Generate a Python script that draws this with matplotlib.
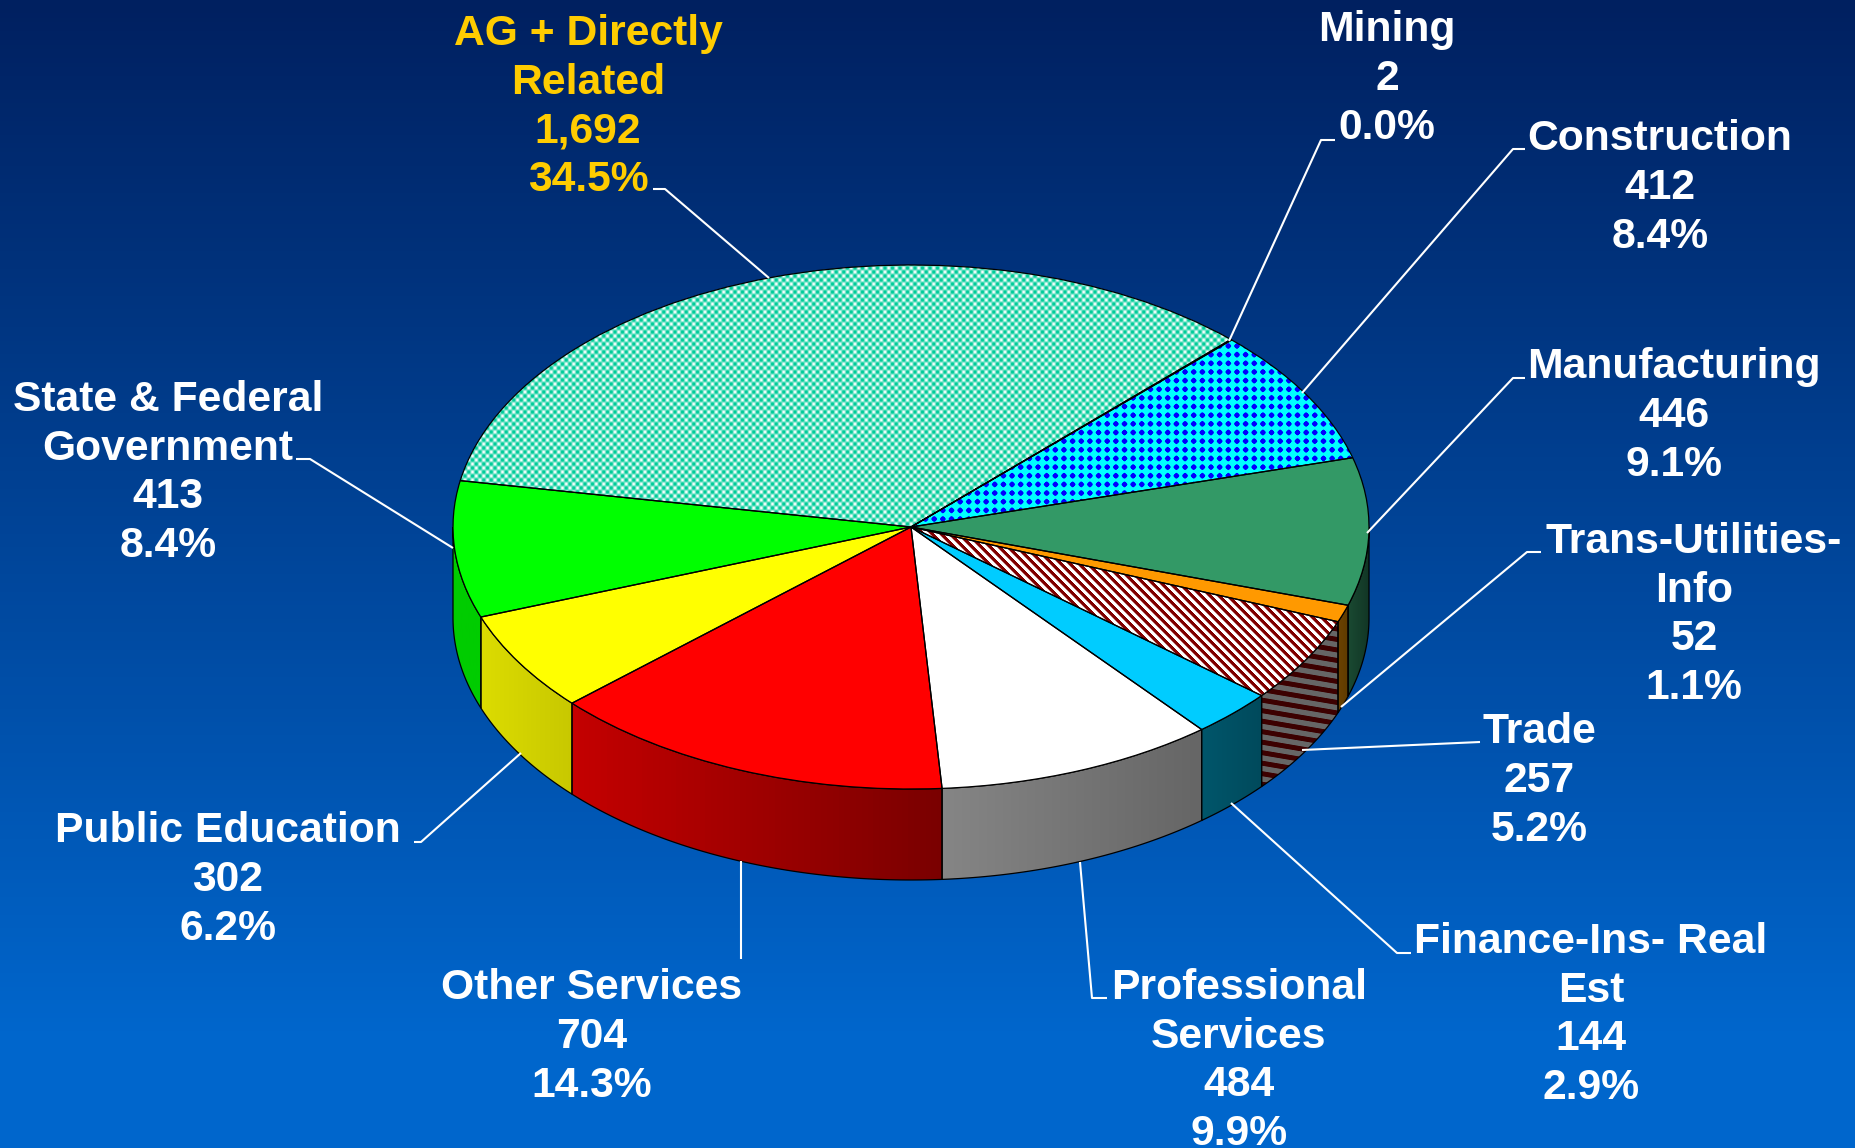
import matplotlib
matplotlib.use('Agg')
import matplotlib.pyplot as plt
from matplotlib.colors import LinearSegmentedColormap
from matplotlib.patches import Polygon
import numpy as np

W, H = 1856, 1148
cx, cy = 911, 527      # pie centre, pixels
rx, ry = 458, 262      # top ellipse radii, pixels
depth = 91
start_angle = 45.7

names = ['Mining', 'Construction', 'Manufacturing', 'Trans-Utilities-\nInfo', 'Trade',
         'Finance-Ins- Real\nEst', 'Professional\nServices', 'Other Services',
         'Public Education', 'State & Federal\nGovernment', 'AG + Directly\nRelated']
values = [2, 412, 446, 52, 257, 144, 484, 704, 302, 413, 1692]
percents = ['0.0%', '8.4%', '9.1%', '1.1%', '5.2%', '2.9%', '9.9%', '14.3%', '6.2%', '8.4%', '34.5%']
top_colors = ['#3366ff', '#00ffff', '#339966', '#ff9900', '#ffffff', '#00ccff', '#ffffff',
              '#ff0000', '#ffff00', '#00ff00', '#66ddbb']
wall_left = ['#000000', '#000000', '#1a4a32', '#6b4200', '#666666', '#00566b', '#858585',
             '#c40000', '#dcdc00', '#00cc00', '#000000']
wall_right = ['#000000', '#000000', '#123626', '#5f3b00', '#666666', '#004a5c', '#666666',
              '#7a0000', '#c8c800', '#00cc00', '#000000']

# label centres and leader lines, in pixels
label_x = [1387, 1660, 1674, 1694, 1539, 1591, 1239, 592, 228, 168, 588]
label_y = [79, 188, 416, 615, 781, 1015, 1061, 1037, 880, 473, 107]
leaders = [
    [(1335, 140), (1321, 140), (1229, 341)],
    [(1525, 149), (1513, 149), (1302, 393)],
    [(1525, 378), (1513, 378), (1367, 533)],
    [(1541, 552), (1527, 552), (1341, 707)],
    [(1480, 742), (1302, 750)],
    [(1411, 953), (1397, 953), (1231, 803)],
    [(1107, 998), (1092, 998), (1080, 862)],
    [(741, 959), (741, 861)],
    [(414, 842), (421, 842), (521, 753)],
    [(296, 459), (310, 459), (453, 548)],
    [(653, 189), (665, 189), (769, 278)],
]

fig = plt.figure(figsize=(W / 100, H / 100), dpi=100)

# background
bg = fig.add_axes([0, 0, 1, 1])
cmap = LinearSegmentedColormap.from_list('bg', [(0, '#002060'), (0.9, '#0066cc'), (1, '#0066cc')])
bg.imshow(np.linspace(0, 1, 256).reshape(-1, 1), cmap=cmap, aspect='auto', extent=(0, 1, 0, 1))
bg.axis('off')

ax = fig.add_axes([0, 0, 1, 1])
ax.patch.set_alpha(0)
limits = (-cx / rx, (W - cx) / rx, (cy - H) / ry, cy / ry)

# pixel textures for the patterned slices
xx, yy = np.meshgrid(np.arange(W) + 0.5, np.arange(H) + 0.5)


def mix(a, b, t):
    a = np.array(matplotlib.colors.to_rgb(a))
    b = np.array(matplotlib.colors.to_rgb(b))
    return a + (b - a) * t[..., None]


def dots():
    t = (np.cos(2 * np.pi * xx / 8.65) + np.cos(2 * np.pi * yy / 8.65)) / 2
    return mix('#00ffff', '#0000ff', np.clip((t - 0.1) * 3, 0, 1))


def weave():
    t = np.cos(2 * np.pi * xx / 7.5) * np.cos(2 * np.pi * yy / 8.0)
    return mix('#00cc99', '#ffffff', np.clip(0.42 + t * 0.6, 0, 1))


def stripes():
    t = np.sin(2 * np.pi * (xx - yy) / 9.0)
    return mix('#ffffff', '#800000', np.clip(t * 1.5 + 0.5, 0, 1))


def wall_stripes():
    t = np.sin(2 * np.pi * (yy - 0.17 * xx) / 10.5)
    return mix('#666666', '#3c0000', np.clip(t * 2 + 0.4, 0, 1))


angles = start_angle - 360 * np.concatenate([[0], np.cumsum(values)]) / np.sum(values)
d = depth / ry

# side wall, front half only
for i in range(len(values)):
    hi = min(angles[i], 0)
    lo = max(angles[i + 1], -180)
    if hi <= lo:
        continue
    th = np.radians(np.linspace(lo, hi, 80))
    xs, ys = np.cos(th), np.sin(th)
    pts = np.column_stack([np.r_[xs, xs[::-1]], np.r_[ys, ys[::-1] - d]])
    poly = Polygon(pts, closed=True, facecolor='none', edgecolor='none', zorder=2)
    ax.add_patch(poly)
    if names[i] == 'Trade':
        im = ax.imshow(wall_stripes(), extent=limits, aspect='auto', zorder=2, interpolation='nearest')
    else:
        grad = mix(wall_left[i], wall_right[i], np.linspace(0, 1, 64).reshape(1, -1))
        im = ax.imshow(grad, extent=(xs.min(), xs.max(), -2, 1), aspect='auto', zorder=2)
    im.set_clip_path(poly)
    ax.add_patch(Polygon(pts, closed=True, facecolor='none', edgecolor='black', linewidth=0.9, zorder=3))

# top of the pie
wedges, _ = ax.pie(values, startangle=start_angle, counterclock=False, colors=top_colors,
                   wedgeprops={'edgecolor': 'none', 'zorder': 4})
textures = {'Construction': dots, 'Trade': stripes, 'AG + Directly\nRelated': weave}
for w, name in zip(wedges, names):
    if name in textures:
        im = ax.imshow(textures[name](), extent=limits, aspect='auto', zorder=5, interpolation='nearest')
        im.set_clip_path(w)
ax.pie(values, startangle=start_angle, counterclock=False, colors=['none'] * len(values),
       wedgeprops={'edgecolor': 'black', 'linewidth': 0.9, 'zorder': 6})
ax.set_aspect('auto')
ax.set_xlim(limits[0], limits[1])
ax.set_ylim(limits[2], limits[3])
ax.axis('off')

# labels, in pixel coordinates
lab = fig.add_axes([0, 0, 1, 1])
lab.patch.set_alpha(0)
lab.set_xlim(0, W)
lab.set_ylim(H, 0)
lab.axis('off')
for i in range(len(values)):
    xs, ys = zip(*leaders[i])
    lab.plot(xs, ys, color='white', linewidth=1.5, solid_capstyle='butt')
    color = '#ffcc00' if names[i].startswith('AG') else 'white'
    text = f'{names[i]}\n{values[i]:,}\n{percents[i]}'
    lab.text(label_x[i], label_y[i], text, color=color, ha='center', va='center', fontsize=30.7,
             fontweight='bold', family='Liberation Sans', linespacing=1.28, clip_on=False)

fig.savefig('out.png', dpi=100)
